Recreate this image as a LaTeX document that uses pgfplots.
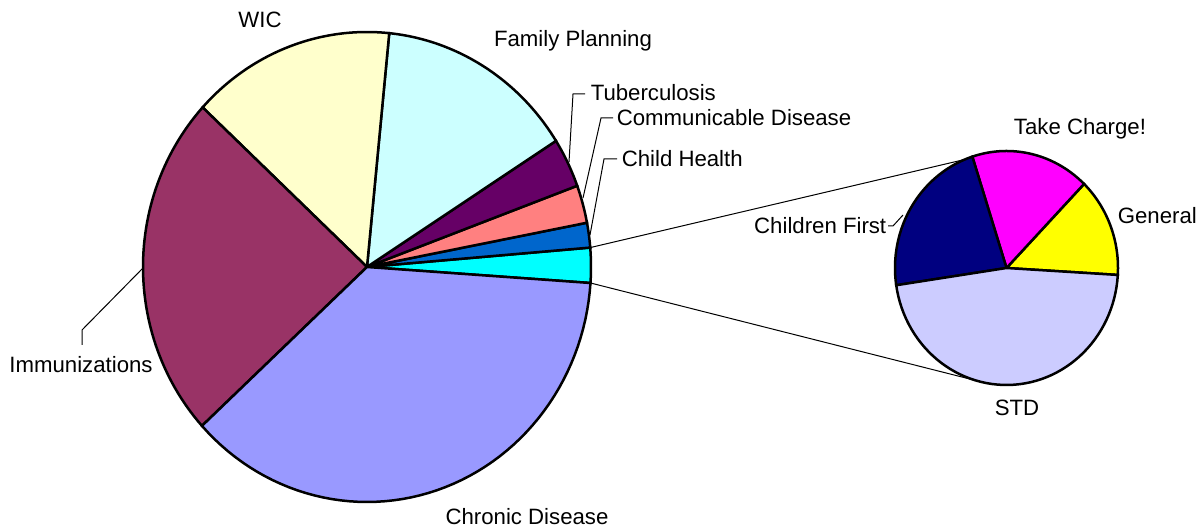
\documentclass[border=0pt]{standalone}
\usepackage{pgfplots}
\pgfplotsset{compat=1.18}
\usepackage{fontspec}
\setmainfont{Liberation Sans}
\definecolor{cOther}{HTML}{00FFFF}
\definecolor{cChild}{HTML}{0066CC}
\definecolor{cComm}{HTML}{FF8080}
\definecolor{cTB}{HTML}{660066}
\definecolor{cFP}{HTML}{CCFFFF}
\definecolor{cWIC}{HTML}{FFFFCC}
\definecolor{cImm}{HTML}{993366}
\definecolor{cChron}{HTML}{9999FF}
\definecolor{cGen}{HTML}{FFFF00}
\definecolor{cTC}{HTML}{FF00FF}
\definecolor{cCF}{HTML}{000080}
\definecolor{cSTD}{HTML}{CCCCFF}
% shares in percent, listed counterclockwise
\def\mainvals{2.4/cOther, 1.7/cChild, 2.6/cComm, 3.4/cTB, 14.4/cFP, 14.7/cWIC, 23.7/cImm, 37.1/cChron}
\def\subvals{13.7/cGen, 17.2/cTC, 22.4/cCF, 46.7/cSTD}
\begin{document}
\fontsize{11.1pt}{13pt}\selectfont
\begin{tikzpicture}
\begin{axis}[at={(0,0)}, anchor=south west, scale only axis,
  width=600.5pt, height=264.5pt, xmin=0, xmax=1201, ymin=0, ymax=529,
  hide axis, clip=false]
% main pie
\xdef\ang{-3.9}
\foreach \v/\c in \mainvals {
  \pgfmathsetmacro{\angb}{\ang+3.6*\v}
  \edef\doplot{\noexpand\addplot[draw=black, line width=1.25pt, fill=\c, domain=\ang:\angb, samples=60]
    ({367+224*cos(x)},{262+235*sin(x)}) -- (axis cs:367,262) -- cycle;}
  \doplot
  \xdef\ang{\angb}
}
% secondary pie
\xdef\ang{-3.4}
\foreach \v/\c in \subvals {
  \pgfmathsetmacro{\angb}{\ang+3.6*\v}
  \edef\doplot{\noexpand\addplot[draw=black, line width=1.25pt, fill=\c, domain=\ang:\angb, samples=60]
    ({1006.5+111.5*cos(x)},{261+117*sin(x)}) -- (axis cs:1006.5,261) -- cycle;}
  \doplot
  \xdef\ang{\angb}
}
% connector lines
\addplot[black, line width=0.5pt] coordinates {(590.2,281.4) (964.7,369.5)};
\addplot[black, line width=0.5pt] coordinates {(590.5,246.0) (983.3,146.6)};
% leader lines
\addplot[black, line width=0.5pt] coordinates {(585,435) (573,435) (569,367)};
\addplot[black, line width=0.5pt] coordinates {(613,411) (601,411) (583,331)};
\addplot[black, line width=0.5pt] coordinates {(617,370) (604,370) (590,294)};
\addplot[black, line width=0.5pt] coordinates {(82,184) (82,199) (143,261)};
\addplot[black, line width=0.5pt] coordinates {(888,303) (893,303) (903,314)};
% labels
\node at (axis cs:260,509) {WIC};
\node at (axis cs:573,488) {Family Planning};
\node[anchor=west] at (axis cs:583,436) {Tuberculosis};
\node[anchor=west] at (axis cs:609,411) {Communicable Disease};
\node[anchor=west] at (axis cs:614,370) {Child Health};
\node at (axis cs:81,164) {Immunizations};
\node at (axis cs:527,12) {Chronic Disease};
\node at (axis cs:1080,400) {Take Charge!};
\node[anchor=west] at (axis cs:1110,313) {General};
\node[anchor=east] at (axis cs:894,303) {Children First};
\node at (axis cs:1017,121) {STD};
\end{axis}
\pgfresetboundingbox
\path (0,0) rectangle (600.5pt,264.5pt);
\end{tikzpicture}
\end{document}
